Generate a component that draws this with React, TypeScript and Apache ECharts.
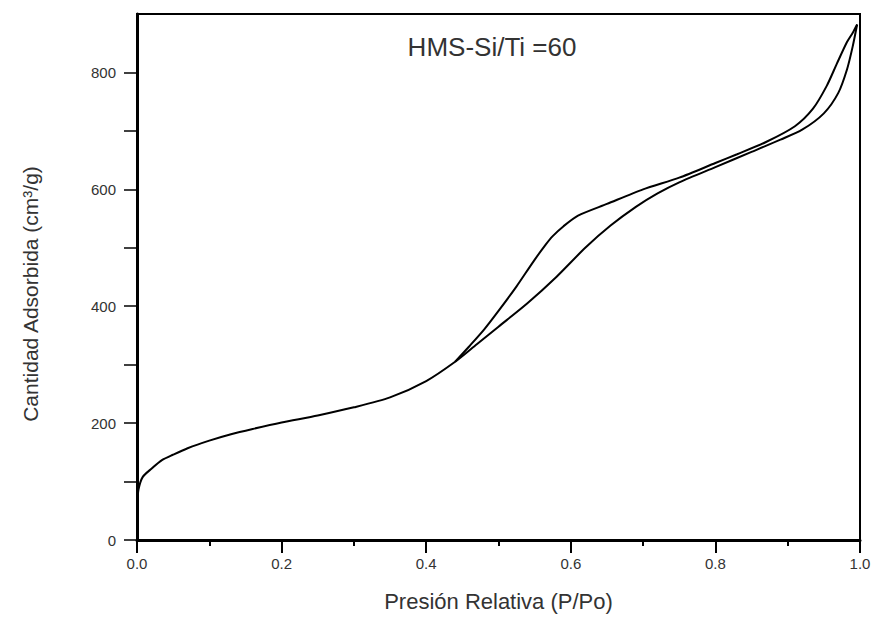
import React, { useEffect, useRef } from "react";
import * as echarts from "echarts";

const adsX = [0.0005, 0.002, 0.008, 0.02, 0.035, 0.05, 0.07, 0.1, 0.13, 0.16, 0.2, 0.25, 0.3, 0.35, 0.4, 0.44, 0.47, 0.5, 0.54, 0.58, 0.62, 0.655, 0.69, 0.72, 0.75, 0.8, 0.85, 0.89, 0.92, 0.95, 0.97, 0.982, 0.99, 0.996];
const adsY = [62, 86, 108, 122, 137, 146, 157, 170, 181, 190, 201, 213, 227, 244, 272, 305, 335, 365, 405, 450, 500, 538, 570, 593, 612, 638, 664, 685, 702, 730, 765, 805, 845, 882];

const desX = [0.996, 0.99, 0.982, 0.968, 0.954, 0.935, 0.91, 0.87, 0.83, 0.8, 0.75, 0.7, 0.65, 0.61, 0.59, 0.575, 0.565, 0.548, 0.525, 0.5, 0.48, 0.46, 0.44];
const desY = [882, 868, 852, 815, 777, 738, 708, 681, 660, 645, 620, 600, 575, 555, 537, 520, 505, 476, 434, 392, 360, 332, 305];

const yTicks = [0, 100, 200, 300, 400, 500, 600, 700, 800];
const yLabels = [0, 200, 400, 600, 800];
const titleText = "HMS-Si/Ti =60";
const xName = "Presión Relativa (P/Po)";
const yName = "Cantidad Adsorbida (cm³/g)";

const FONT = "'Liberation Sans', Arial, sans-serif";

export default function App() {
  const ref = useRef<HTMLDivElement>(null);
  useEffect(() => {
    if (!ref.current) return;
    const chart = echarts.init(ref.current, undefined, { renderer: "svg" });
    const ads = adsX.map((x, i) => [x, adsY[i]]);
    const des = desX.map((x, i) => [x, desY[i]]);
    chart.setOption({
      animation: false,
      backgroundColor: "#fff",
      grid: {
        left: 137,
        top: 14,
        right: 19,
        bottom: 73,
        show: true,
        borderColor: "#000",
        borderWidth: 2,
        backgroundColor: "transparent",
      },
      graphic: [
        {
          type: "text",
          x: 492,
          y: 47,
          style: {
            text: titleText,
            align: "center",
            verticalAlign: "middle",
            fontSize: 26,
            fontFamily: FONT,
            fill: "#333",
          },
        },
        {
          type: "text",
          x: 30,
          y: 294,
          rotation: Math.PI / 2,
          style: {
            text: yName,
            align: "center",
            verticalAlign: "middle",
            fontSize: 21,
            fontFamily: FONT,
            fill: "#333",
          },
        },
      ],
      xAxis: {
        type: "value",
        min: 0,
        max: 1,
        interval: 0.2,
        name: xName,
        nameLocation: "middle",
        nameGap: 50,
        nameTextStyle: { fontSize: 22, fontFamily: FONT, color: "#333" },
        axisLine: { show: true, lineStyle: { color: "#000", width: 3 } },
        axisTick: { show: true, length: 13, lineStyle: { color: "#000", width: 2 } },
        minorTick: { show: true, splitNumber: 2, length: 6, lineStyle: { color: "#000", width: 2 } },
        splitLine: { show: false },
        minorSplitLine: { show: false },
        axisLabel: {
          margin: 16,
          fontSize: 15,
          fontFamily: FONT,
          color: "#333",
          formatter: (v: number) => v.toFixed(1),
        },
      },
      yAxis: {
        type: "value",
        min: 0,
        max: 900,
        interval: 100,
        axisLine: { show: true, lineStyle: { color: "#000", width: 3 } },
        axisTick: { show: true, length: 13, customValues: yTicks, lineStyle: { color: "#000", width: 1.5 } },
        splitLine: { show: false },
        axisLabel: {
          margin: 21,
          fontSize: 15,
          fontFamily: FONT,
          color: "#333",
          customValues: yLabels,
        },
      },
      series: [
        {
          type: "line",
          data: ads,
          showSymbol: false,
          smooth: 0.25,
          lineStyle: { color: "#000", width: 2 },
        },
        {
          type: "line",
          data: des,
          showSymbol: false,
          smooth: 0.25,
          lineStyle: { color: "#000", width: 2 },
        },
      ],
    });
    return () => chart.dispose();
  }, []);
  return (
    <div
      ref={ref}
      style={{ position: "fixed", left: 0, top: 0, width: 879, height: 617 }}
    />
  );
}
